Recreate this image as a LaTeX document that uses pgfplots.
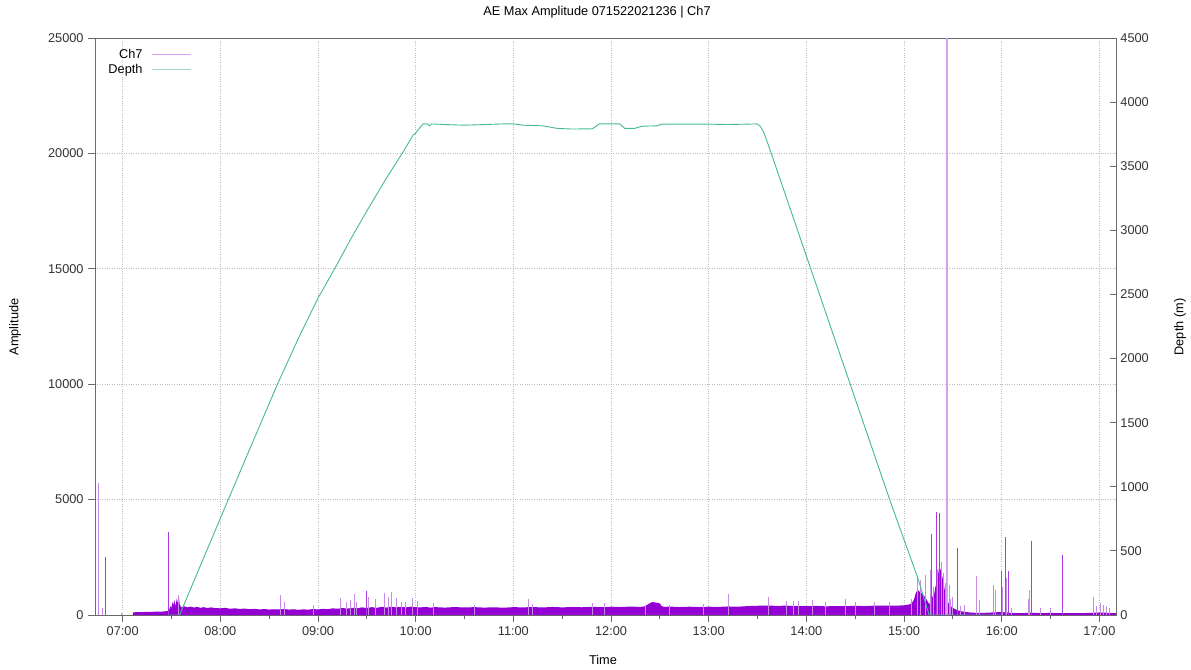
\documentclass[border=0pt]{standalone}
\usepackage{fontspec}
\setmainfont{Liberation Sans}
\usepackage{pgfplots}
\pgfplotsset{compat=1.18}
\definecolor{chdark}{HTML}{9400D3}
\definecolor{chlight}{HTML}{C98BEA}
\definecolor{chmid}{HTML}{A93BE0}
\definecolor{chleg}{HTML}{D7A0F0}
\definecolor{depthc}{HTML}{45B898}
\definecolor{depthleg}{HTML}{9FDBC8}
\definecolor{axc}{HTML}{6A6A6A}
\definecolor{gridc}{HTML}{BDBDBD}
\begin{document}
\fontsize{12.8}{15}\selectfont
\begin{tikzpicture}
\useasboundingbox (-95bp,-55bp) rectangle (1096bp,615bp);
\pgfplotsset{
  common/.style={
    at={(0,0)}, anchor=south west, scale only axis, width=1021bp, height=577bp,
    xmin=6.717, xmax=17.17,
    /pgf/number format/assume math mode=true,
    /pgf/number format/set thousands separator={},
    tick label style={font=\fontsize{12.8}{15}\selectfont, text=black!80},
    axis line style={axc, line width=0.8bp},
    every tick/.style={axc, line width=0.8bp},
    scaled y ticks=false,
  }
}
\begin{axis}[common,
  ymin=0, ymax=25000, ytick={0,5000,...,25000},
  xtick={7,8,9,10,11,12,13,14,15,16,17},
  xticklabels={07:00,08:00,09:00,10:00,11:00,12:00,13:00,14:00,15:00,16:00,17:00},
  minor x tick num=1,
  xtick pos=left, ytick pos=left,
  tick align=outside, major tick length=7bp, minor tick length=4bp,
  grid=major, major grid style={gridc, dash pattern=on 0.8bp off 1.6bp, line width=0.7bp},
]
\addplot[fill=chdark, draw=none] coordinates {
(7.105,0)(7.108,110)(7.15,130)(7.2,120)(7.25,140)(7.3,135)(7.35,150)(7.4,145)(7.45,170)(7.465,180)(7.468,700)(7.472,700)(7.475,200)(7.49,380)(7.5,300)(7.51,560)(7.52,420)(7.53,650)(7.54,380)(7.555,720)(7.565,500)(7.575,800)(7.585,450)(7.6,330)(7.63,380)(7.66,330)(7.7,360)(7.73,320)(7.76,350)(7.8,310)(7.83,340)(7.87,300)(7.9,330)(7.95,300)(8.0,290)(8.05,310)(8.1,270)(8.15,290)(8.2,260)(8.25,280)(8.3,250)(8.35,270)(8.4,240)(8.45,260)(8.5,235)(8.55,250)(8.6,240)(8.65,260)(8.7,235)(8.75,250)(8.8,225)(8.85,245)(8.9,230)(8.95,260)(9.0,240)(9.05,270)(9.1,250)(9.15,290)(9.2,270)(9.25,300)(9.3,280)(9.35,310)(9.4,290)(9.45,330)(9.5,300)(9.55,340)(9.6,310)(9.65,350)(9.7,320)(9.75,360)(9.8,330)(9.85,350)(9.9,330)(9.95,360)(10.0,340)(10.05,330)(10.1,350)(10.15,320)(10.2,340)(10.3,320)(10.4,345)(10.5,325)(10.6,340)(10.7,320)(10.8,335)(10.9,315)(11.0,340)(11.1,330)(11.2,345)(11.3,325)(11.4,350)(11.5,330)(11.6,345)(11.7,335)(11.8,355)(11.9,340)(12.0,360)(12.1,345)(12.2,365)(12.3,350)(12.35,380)(12.38,470)(12.42,560)(12.46,540)(12.5,500)(12.52,380)(12.55,350)(12.6,365)(12.7,345)(12.8,360)(12.9,345)(13.0,360)(13.1,350)(13.2,370)(13.3,360)(13.4,385)(13.5,400)(13.6,410)(13.7,395)(13.8,405)(13.9,385)(14.0,380)(14.1,395)(14.2,375)(14.3,390)(14.4,380)(14.5,400)(14.6,385)(14.7,405)(14.8,410)(14.9,400)(15.0,420)(15.05,450)(15.08,520)(15.1,650)(15.12,950)(15.14,1100)(15.16,1000)(15.18,950)(15.2,850)(15.22,750)(15.24,600)(15.26,450)(15.28,900)(15.3,700)(15.32,1200)(15.34,1500)(15.36,2100)(15.38,1900)(15.4,1500)(15.42,1000)(15.44,700)(15.46,450)(15.48,380)(15.5,300)(15.52,260)(15.55,200)(15.6,150)(15.65,120)(15.7,100)(15.8,90)(15.9,110)(16.0,130)(16.1,90)(16.2,80)(16.3,100)(16.4,80)(16.5,90)(16.6,80)(16.7,85)(16.8,80)(16.9,90)(17.0,110)(17.1,90)(17.17,80)
} \closedcycle;
\addplot[ycomb, chlight, line width=0.9bp, mark=none] coordinates {
(6.750,5733)(6.757,250)(6.795,300)(6.99,100)(7.473,3300)(7.573,867)(8.616,867)(8.66,578)(8.95,430)(9.229,722)(9.29,578)(9.33,650)(9.37,900)(9.393,578)(9.52,800)(9.59,679)(9.682,939)(9.72,800)(9.757,1011)(9.80,750)(9.85,578)(9.90,550)(9.965,722)(10.02,621)(10.18,505)(10.6,450)(11.158,679)(11.2,480)(11.81,520)(11.93,520)(12.35,450)(12.6,450)(12.95,480)(13.20,910)(13.61,766)(13.80,600)(13.87,620)(13.92,600)(14.06,650)(14.2,560)(14.40,693)(14.5,580)(14.7,560)(14.85,550)(15.08,700)(15.14,1690)(15.17,1517)(15.22,1733)(15.27,1950)(15.30,1200)(15.345,2000)(15.38,2300)(15.40,1800)(15.42,1400)(15.445,4840)(15.46,1300)(15.48,700)(15.50,800)(15.58,400)(15.62,450)(15.742,1690)(15.77,650)(15.92,1300)(15.937,1100)(16.01,1200)(16.05,1600)(16.10,300)(16.27,700)(16.28,1083)(16.40,300)(16.5,300)(16.94,793)(16.97,400)(17.01,533)(17.04,450)(17.07,400)(17.1,300)
};
\addplot[ycomb, chleg, line width=1.6bp, mark=none] coordinates {(15.442,25000)};
\addplot[ycomb, chmid, line width=0.9bp, mark=none] coordinates {
(6.822,2526)(7.470,3610)(9.495,1055)(15.28,3496)(15.333,4450)(15.364,4407)(15.545,2890)(15.998,1921)(16.039,3366)(16.066,1921)(16.30,3221)(16.618,2600)
};
\end{axis}
\begin{axis}[common,
  ymin=0, ymax=4500, ytick={0,500,...,4500},
  axis x line=none, axis y line*=right,
  tick align=inside, major tick length=6bp,
  legend style={at={(0.0081,0.9885)}, anchor=north west, draw=none, fill=none,
    font=\fontsize{12.8}{15}\selectfont, row sep=0bp},
  legend cell align=right, legend plot pos=right,
  legend image code/.code={\path (0bp,0bp); \draw[#1] (7bp,0bp) -- (46bp,0bp);},
]
\addlegendimage{chleg, line width=1.2bp}
\addlegendimage{depthleg, line width=1.2bp}
\addplot[depthc, line width=0.9bp, forget plot] coordinates {
(7.484,0)(7.583,0)(7.8,392)(8.081,900)(8.3,1292)(8.585,1800)(8.8,2159)(9.0,2471)(9.17,2700)(9.35,2952)(9.5,3151)(9.7,3407)(9.863,3601)(9.975,3744)(10.000,3757)(10.02,3780)(10.076,3830)(10.12,3830)(10.14,3815)(10.16,3830)(10.3,3825)(10.5,3820)(10.7,3825)(10.9,3830)(11.0,3830)(11.1,3820)(11.3,3815)(11.45,3795)(11.6,3790)(11.81,3792)(11.88,3830)(12.09,3830)(12.14,3795)(12.24,3795)(12.32,3812)(12.47,3815)(12.52,3828)(12.8,3828)(13.0,3828)(13.2,3825)(13.49,3830)(13.50,3828)(13.53,3810)(13.56,3770)(13.59,3710)(13.62,3645)(13.64,3601)(14.0,2800)(14.44,1819)(14.86,884)(15.14,290)(15.257,0)(16.0,0)
};
\legend{Ch7,Depth}
\end{axis}
\node at (502bp,603bp) {AE Max Amplitude 071522021236 | Ch7};
\node at (508bp,-45bp) {Time};
\node[rotate=90] at (-80bp,288bp) {Amplitude};
\node[rotate=90] at (1085bp,288bp) {Depth (m)};
\end{tikzpicture}
\end{document}
